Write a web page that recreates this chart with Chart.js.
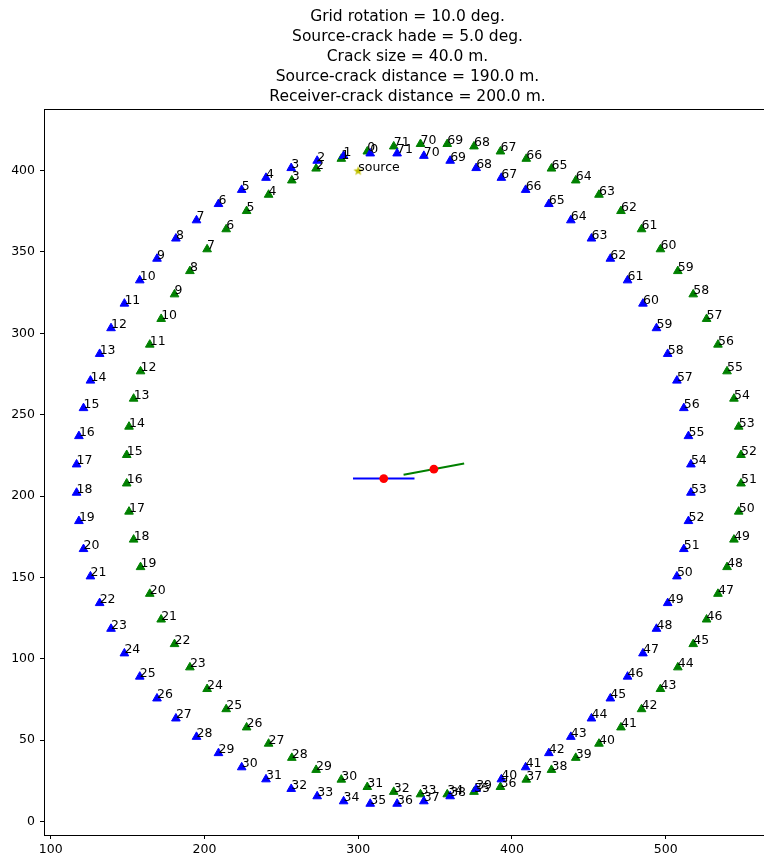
<!DOCTYPE html>
<html>
<head>
<meta charset="utf-8">
<script src="https://cdn.jsdelivr.net/npm/chart.js@4.4.1/dist/chart.umd.min.js"></script>
<style>
html, body { margin: 0; padding: 0; overflow: hidden; background: #fff; }
#wrap { width: 780px; height: 858px; }
</style>
</head>
<body>
<div id="wrap"><canvas id="chartCrack" width="780" height="858"></canvas></div>
<script>
// chart data

const titleLines = [
    'Grid rotation = 10.0 deg.',
    'Source-crack hade = 5.0 deg.',
    'Crack size = 40.0 m.',
    'Source-crack distance = 190.0 m.',
    'Receiver-crack distance = 200.0 m.'
];

const receiverIds = [0,1,2,3,4,5,6,7,8,9,10,11,12,13,14,15,16,17,18,19,20,21,22,23,24,25,26,27,28,29,30,31,32,33,34,35,
    36,37,38,39,40,41,42,43,44,45,46,47,48,49,50,51,52,53,54,55,56,57,58,59,60,61,62,63,64,65,66,67,68,69,70,71];

// receivers before rotation (blue)
const blueX = [307.8, 290.5, 273.3, 256.4, 240.0, 224.2, 209.1, 194.8, 181.4, 169.1, 157.9, 147.9, 139.2, 131.8, 125.8, 121.3, 118.3, 116.8,
    116.8, 118.3, 121.3, 125.8, 131.8, 139.2, 147.9, 157.9, 169.1, 181.4, 194.8, 209.1, 224.2, 240.0, 256.4, 273.3, 290.5, 307.8,
    325.3, 342.7, 359.8, 376.7, 393.1, 408.9, 424.0, 438.3, 451.7, 464.0, 475.2, 485.2, 494.0, 501.3, 507.3, 511.8, 514.8, 516.4,
    516.4, 514.8, 511.8, 507.3, 501.3, 494.0, 485.2, 475.2, 464.0, 451.7, 438.3, 424.0, 408.9, 393.1, 376.7, 359.8, 342.7, 325.3];
const blueY = [410.5, 409.0, 406.0, 401.5, 395.5, 388.1, 379.4, 369.4, 358.2, 345.8, 332.5, 318.2, 303.1, 287.3, 270.9, 254.0, 236.8, 219.4,
    202.0, 184.6, 167.4, 150.6, 134.2, 118.4, 103.3, 89.0, 75.6, 63.3, 52.0, 42.0, 33.3, 25.9, 20.0, 15.5, 12.4, 10.9,
    10.9, 12.4, 15.5, 20.0, 25.9, 33.3, 42.0, 52.0, 63.3, 75.6, 89.0, 103.3, 118.4, 134.2, 150.6, 167.4, 184.6, 202.0,
    219.4, 236.8, 254.0, 270.9, 287.3, 303.1, 318.2, 332.5, 345.8, 358.2, 369.4, 379.4, 388.1, 395.5, 401.5, 406.0, 409.0, 410.5];

// receivers after rotation (green)
const greenX = [305.9, 289.0, 272.6, 256.8, 241.7, 227.4, 214.1, 201.7, 190.5, 180.5, 171.8, 164.4, 158.4, 153.9, 150.9, 149.4,
    149.4, 150.9, 153.9, 158.4, 164.4, 171.8, 180.5, 190.5, 201.7, 214.1, 227.4, 241.7, 256.8, 272.6, 289.0, 305.9, 323.1, 340.5,
    357.9, 375.3, 392.5, 409.3, 425.7, 441.5, 456.6, 470.9, 484.3, 496.6, 507.9, 517.9, 526.6, 534.0, 539.9, 544.4, 547.5, 549.0,
    549.0, 547.5, 544.4, 539.9, 534.0, 526.6, 517.9, 507.9, 496.6, 484.3, 470.9, 456.6, 441.5, 425.7, 409.3, 392.5, 375.3, 357.9, 340.5, 323.1];
const greenY = [411.7, 407.2, 401.2, 393.9, 385.1, 375.1, 363.9, 351.6, 338.2, 323.9, 308.8, 293.0, 276.6, 259.8, 242.6, 225.2,
    207.7, 190.4, 173.2, 156.3, 139.9, 124.1, 109.0, 94.7, 81.4, 69.0, 57.8, 47.8, 39.1, 31.7, 25.7, 21.2, 18.2, 16.7,
    16.7, 18.2, 21.2, 25.7, 31.7, 39.1, 47.8, 57.8, 69.0, 81.4, 94.7, 109.0, 124.1, 139.9, 156.3, 173.2, 190.4, 207.7,
    225.2, 242.6, 259.8, 276.6, 293.0, 308.8, 323.9, 338.2, 351.6, 363.9, 375.1, 385.1, 393.9, 401.2, 407.2, 411.7, 414.8, 416.3, 416.3, 414.8];

const sourcePos = [300.0, 400.0];
const crackCentreX = [316.6, 349.2];
const crackCentreY = [210.7, 216.5];
const blueCrackX = [296.6, 336.6];
const blueCrackY = [210.7, 210.7];
const greenCrackX = [329.5, 368.9];
const greenCrackY = [213.0, 220.0];

const xTicks = [100, 200, 300, 400, 500];
const yTicks = [0, 50, 100, 150, 200, 250, 300, 350, 400];

const FONT = '"DejaVu Sans", sans-serif';

function toPoints(xs, ys) {
    return xs.map((x, i) => ({ x: x, y: ys[i] }));
}

// yellow star marker for the source
function starMarker(r, color) {
    const c = document.createElement('canvas');
    const size = Math.ceil(r * 2 + 2);
    c.width = size;
    c.height = size;
    const g = c.getContext('2d');
    g.beginPath();
    for (let i = 0; i < 10; i++) {
        const rr = i % 2 ? r * 0.42 : r;
        const a = -Math.PI / 2 + i * Math.PI / 5;
        g.lineTo(size / 2 + rr * Math.cos(a), size / 2 + rr * Math.sin(a) + 0.5);
    }
    g.closePath();
    g.fillStyle = color;
    g.fill();
    return c;
}

// number labels next to the markers
const pointLabels = {
    id: 'pointLabels',
    afterDatasetsDraw(chart) {
        const ctx = chart.ctx;
        ctx.save();
        ctx.font = '12.5px ' + FONT;
        ctx.fillStyle = '#000';
        ctx.textAlign = 'left';
        ctx.textBaseline = 'alphabetic';
        for (let di = chart.data.datasets.length - 1; di >= 0; di--) {
            const ds = chart.data.datasets[di];
            if (!ds.pointText) continue;
            chart.getDatasetMeta(di).data.forEach((pt, i) => {
                ctx.fillText(String(ds.pointText[i]), pt.x, pt.y);
            });
        }
        ctx.restore();
    }
};

// box around the axes like matplotlib
const frame = {
    id: 'frame',
    afterDraw(chart) {
        const a = chart.chartArea;
        const ctx = chart.ctx;
        ctx.save();
        ctx.strokeStyle = '#000';
        ctx.lineWidth = 1;
        ctx.strokeRect(Math.round(a.left) + 0.5, Math.round(a.top) - 0.5,
            Math.round(a.right - a.left), Math.round(a.bottom - a.top) + 1);
        ctx.restore();
    }
};

const ctx = document.getElementById('chartCrack').getContext('2d');
const chartCrack = new Chart(ctx, {
    type: 'scatter',
    data: {
        datasets: [
            {
                label: 'crack centres',
                data: toPoints(crackCentreX, crackCentreY),
                pointStyle: 'circle',
                pointRadius: 4.4,
                backgroundColor: '#ff0000',
                borderColor: '#ff0000',
                borderWidth: 0
            },
            {
                label: 'crack',
                type: 'line',
                data: toPoints(blueCrackX, blueCrackY),
                borderColor: '#0000ff',
                borderWidth: 2,
                pointRadius: 0,
                fill: false
            },
            {
                label: 'rotated crack',
                type: 'line',
                data: toPoints(greenCrackX, greenCrackY),
                borderColor: '#008000',
                borderWidth: 2,
                pointRadius: 0,
                fill: false
            },
            {
                label: 'source',
                data: [{ x: sourcePos[0], y: sourcePos[1] }],
                pointStyle: starMarker(5, '#bfbf00'),
                pointText: ['source']
            },
            {
                label: 'receivers',
                data: toPoints(blueX, blueY),
                pointStyle: 'triangle',
                pointRadius: 5.0,
                backgroundColor: '#0000ff',
                borderColor: '#0000ff',
                borderWidth: 1,
                pointText: receiverIds
            },
            {
                label: 'rotated receivers',
                data: toPoints(greenX, greenY),
                pointStyle: 'triangle',
                pointRadius: 5.0,
                backgroundColor: '#008000',
                borderColor: '#008000',
                borderWidth: 1,
                pointText: receiverIds
            }
        ]
    },
    options: {
        responsive: false,
        animation: false,
        events: [],
        layout: { padding: { left: 0, right: 9, top: 0, bottom: 0 } },
        plugins: {
            legend: { display: false },
            tooltip: { enabled: false },
            title: {
                display: true,
                text: titleLines,
                fullSize: false,
                color: '#000',
                font: { family: FONT, size: 15.5, weight: 'normal', lineHeight: 1.29 },
                padding: { top: 7, bottom: 3 }
            }
        },
        scales: {
            x: {
                type: 'linear',
                min: 95.6,
                max: 568.5,
                afterBuildTicks: (s) => { s.ticks = xTicks.map(v => ({ value: v })); },
                afterFit: (s) => { s.height = 23; },
                grid: { drawOnChartArea: false, drawTicks: true, tickLength: 4, color: '#000' },
                border: { display: false },
                ticks: { color: '#000', padding: 3, maxRotation: 0, font: { family: FONT, size: 12.5 } }
            },
            y: {
                type: 'linear',
                min: -8.3,
                max: 437.2,
                afterBuildTicks: (s) => { s.ticks = yTicks.map(v => ({ value: v })); },
                afterFit: (s) => { s.width = 44; },
                grid: { drawOnChartArea: false, drawTicks: true, tickLength: 4, color: '#000' },
                border: { display: false },
                ticks: { color: '#000', padding: 5, font: { family: FONT, size: 12.5 } }
            }
        }
    },
    plugins: [pointLabels, frame]
});
</script>
</body>
</html>
